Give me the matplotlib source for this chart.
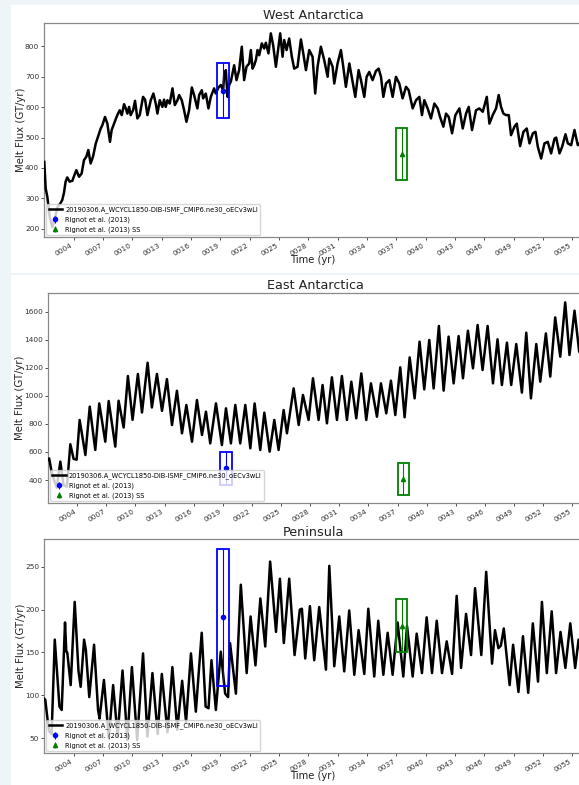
import matplotlib
matplotlib.use("Agg")
import matplotlib.pyplot as plt
from matplotlib.patches import Rectangle
import numpy as np

# model run name used in every legend
run_name = "20190306.A_WCYCL1850-DIB-ISMF_CMIP6.ne30_oECv3wLI"
obs_label = "Rignot et al. (2013)"
ss_label = "Rignot et al. (2013) SS"

# West Antarctica melt flux (year, GT/yr)
west_t = [1.0, 1.14, 1.31, 1.55, 1.82, 2.09, 2.33, 2.67, 2.84, 3.01, 3.18, 3.35, 3.59, 3.87,
          4.14, 4.28, 4.55, 4.82, 5.06, 5.30, 5.50, 5.74, 5.98, 6.26, 6.50, 6.77, 6.94, 7.21,
          7.45, 7.72, 7.89, 8.13, 8.30, 8.47, 8.71, 8.92, 9.16, 9.33, 9.50, 9.67, 9.84, 10.08,
          10.28, 10.52, 10.76, 11.10, 11.31, 11.55, 11.89, 12.16, 12.40, 12.57, 12.81, 13.08,
          13.25, 13.42, 13.60, 13.83, 14.11, 14.35, 14.62, 14.79, 15.06, 15.30, 15.54, 15.81,
          16.09, 16.32, 16.66, 16.84, 17.11, 17.25, 17.52, 17.79, 18.03, 18.37, 18.54, 18.82,
          19.05, 19.29, 19.40, 19.57, 19.74, 19.91, 20.08, 20.25, 20.42, 20.66, 20.93, 21.20,
          21.44, 21.68, 21.96, 22.13, 22.30, 22.47, 22.64, 22.81, 22.98, 23.25, 23.49, 23.66,
          23.93, 24.17, 24.41, 24.69, 24.96, 25.13, 25.37, 25.54, 25.78, 26.05, 26.32, 26.56,
          26.90, 27.25, 27.49, 27.76, 28.10, 28.44, 28.71, 28.95, 29.29, 29.63, 29.98, 30.15,
          30.49, 30.66, 31.00, 31.34, 31.58, 31.85, 32.20, 32.53, 32.81, 33.15, 33.39, 33.73,
          33.97, 34.24, 34.58, 34.92, 35.20, 35.44, 35.68, 35.95, 36.29, 36.63, 36.97, 37.31,
          37.65, 38.00, 38.27, 38.68, 39.02, 39.36, 39.63, 39.87, 40.21, 40.55, 40.90, 41.24,
          41.48, 41.82, 42.09, 42.37, 42.71, 43.05, 43.46, 43.80, 44.14, 44.41, 44.75, 45.16,
          45.50, 45.85, 46.26, 46.53, 46.87, 47.21, 47.48, 47.72, 47.96, 48.23, 48.51, 48.74,
          49.09, 49.33, 49.67, 50.01, 50.35, 50.63, 50.97, 51.24, 51.48, 51.82, 52.16, 52.50,
          52.84, 53.19, 53.36, 53.70, 53.97, 54.31, 54.55, 54.89, 55.23, 55.57, 56.0]
west_v = [420, 333, 305, 240, 205, 235, 270, 285, 295, 318, 355, 369, 355, 358,
          382, 393, 371, 382, 426, 437, 459, 415, 437, 480, 503, 530, 541, 568,
          546, 486, 525, 546, 560, 574, 590, 574, 610, 596, 579, 601, 574, 590,
          621, 563, 574, 634, 625, 574, 623, 645, 612, 579, 623, 601,
          625, 601, 623, 612, 662, 607, 623, 640, 623, 590, 552, 590,
          665, 640, 596, 640, 656, 629, 645, 596, 634, 662, 645, 665,
          673, 656, 705, 722, 634, 673, 684, 711, 738, 689, 722, 799,
          689, 733, 744, 788, 727, 738, 755, 788, 771, 810, 793, 812,
          777, 843, 804, 733, 799, 843, 766, 821, 788, 826, 766, 727,
          733, 823, 777, 722, 788, 766, 645, 733, 799, 755, 700, 760,
          733, 678, 744, 788, 733, 667, 744, 684, 634, 722, 689, 634,
          700, 716, 689, 719, 727, 700, 634, 678, 689, 634, 700, 678,
          629, 667, 656, 596, 623, 634, 574, 623, 596, 563, 612, 596,
          568, 536, 579, 568, 514, 574, 596, 530, 579, 601, 525, 590,
          596, 585, 634, 546, 574, 596, 640, 601, 579, 574, 574, 508,
          536, 546, 472, 519, 530, 481, 514, 519, 470, 431, 481, 486,
          448, 497, 500, 448, 470, 511, 481, 475, 525, 475, 490]

# East Antarctica
east_t = [1.0, 1.12, 1.4, 1.9, 2.27, 2.6, 2.95, 3.3, 3.64, 3.95, 4.26, 4.85, 5.3, 5.87, 6.28,
          6.9, 7.25, 7.93, 8.27, 8.79, 9.23, 9.71, 10.26, 10.68, 11.26, 11.7, 12.22, 12.74,
          13.25, 13.77, 14.28, 14.8, 15.25, 15.83, 16.34, 16.86, 17.27, 17.71, 18.3, 18.91,
          19.33, 19.84, 20.29, 20.8, 21.32, 21.84, 22.28, 22.86, 23.28, 23.83, 24.31, 24.75,
          25.27, 25.61, 26.3, 26.82, 27.26, 27.84, 28.29, 28.87, 29.28, 29.73, 30.24, 30.76,
          31.27, 31.79, 32.24, 32.75, 33.27, 33.78, 34.26, 34.88, 35.29, 35.84, 36.32, 36.77,
          37.28, 37.73, 38.25, 38.76, 39.27, 39.75, 40.27, 40.72, 41.26, 41.75, 42.26, 42.78,
          43.29, 43.74, 44.25, 44.77, 45.25, 45.76, 46.28, 46.83, 47.3, 47.75, 48.27, 48.71,
          49.23, 49.81, 50.26, 50.74, 51.29, 51.7, 52.28, 52.73, 53.24, 53.76, 54.27, 54.71,
          55.23, 55.71, 56.0]
east_v = [545, 554, 447, 345, 531, 364, 352, 655, 550, 545, 828, 578, 923, 614, 946,
          673, 963, 638, 965, 774, 1141, 829, 1156, 881, 1236, 917, 1156, 893,
          1119, 792, 1036, 733, 935, 673, 970, 721, 887, 661, 946, 649,
          911, 661, 935, 661, 935, 626, 946, 614, 880, 602, 828, 614,
          899, 733, 1053, 792, 1006, 828, 1125, 828, 1077, 804, 1132, 828,
          1141, 828, 1101, 840, 1160, 828, 1089, 851, 1089, 875, 1108, 863,
          1203, 847, 1274, 982, 1386, 1046, 1398, 1053, 1498, 1037, 1422, 1089,
          1426, 1125, 1464, 1196, 1505, 1184, 1498, 1089, 1403, 1077, 1379, 1077,
          1369, 1023, 1450, 982, 1369, 1101, 1445, 1137, 1559, 1279, 1666, 1291,
          1607, 1315, 1290]

# Peninsula
pen_t = [1.0, 1.1, 1.3, 1.5, 1.75, 2.07, 2.55, 2.78, 3.12, 3.25, 3.35, 3.7, 4.11, 4.5, 4.72,
         5.07, 5.25, 5.6, 6.09, 6.5, 6.65, 7.1, 7.6, 8.04, 8.5, 9.0, 9.5, 9.96, 10.5, 11.1,
         11.55, 12.06, 12.6, 13.02, 13.6, 14.1, 14.6, 15.1, 15.5, 16.0, 16.5, 17.1, 17.5,
         17.8, 18.1, 18.55, 19.05, 19.5, 19.8, 20.0, 20.6, 21.1, 21.7, 22.1, 22.6, 23.1,
         23.6, 24.1, 24.7, 25.1, 25.5, 26.05, 26.6, 27.14, 27.35, 27.69, 28.17, 28.61,
         29.12, 29.81, 30.15, 30.66, 31.17, 31.68, 32.19, 32.71, 33.15, 33.73, 34.14,
         34.75, 35.16, 35.68, 36.12, 36.63, 37.14, 37.72, 38.1, 38.68, 39.09, 39.63,
         40.11, 40.66, 41.14, 41.68, 42.16, 42.71, 43.18, 43.63, 44.14, 44.65, 45.06,
         45.7, 46.2, 46.8, 47.1, 47.45, 47.7, 48.0, 48.3, 48.6, 48.95, 49.5, 49.96, 50.5,
         50.97, 51.5, 51.9, 52.4, 52.9, 53.35, 53.8, 54.3, 54.8, 55.3, 55.65, 56.0]
pen_v = [96, 95, 75, 58, 55, 165, 87, 83, 185, 151, 150, 112, 209, 128, 110,
         165, 153, 98, 159, 83, 73, 118, 50, 112, 52, 129, 48, 133, 48, 149,
         52, 126, 55, 125, 57, 133, 60, 117, 69, 149, 81, 173, 87,
         85, 141, 83, 151, 102, 98, 161, 102, 229, 126, 192, 135, 213,
         157, 256, 174, 236, 161, 236, 147, 200, 201, 143, 204, 141,
         203, 130, 251, 134, 192, 128, 199, 124, 176, 125, 201,
         122, 187, 124, 173, 124, 185, 122, 181, 122, 172, 126,
         191, 126, 187, 126, 163, 125, 216, 132, 195, 147, 225,
         147, 244, 137, 176, 155, 158, 178, 145, 112, 159, 104, 169, 103,
         184, 116, 209, 126, 198, 126, 174, 132, 184, 132, 165, 140]

# observations: time, value, error   (West, East, Peninsula)
obs_t = [19.25, 19.3, 19.25]
obs_v = [654, 483, 191]
obs_e = [90, 119, 80]
ss_t = [37.55, 37.6, 37.55]
ss_v = [446, 408, 181]
ss_e = [84, 115, 31]

titles = ["West Antarctica", "East Antarctica", "Peninsula"]
ylims = [(172, 878), (234, 1735), (32.5, 282.3)]
yticks = [np.arange(200, 801, 100), np.arange(400, 1601, 200), np.arange(50, 251, 50)]
xticks = np.arange(4, 56, 3)

W, H = 579, 785
fig = plt.figure(figsize=(W / 100, H / 100), dpi=100, facecolor="#edf5f8")

# white "slide" panels behind the three plots
fig.add_artist(Rectangle((11 / W, 1 - 273 / H), 1, (273 - 5) / H, transform=fig.transFigure,
                         facecolor="white", edgecolor="none", zorder=-10))
fig.add_artist(Rectangle((11 / W, 0), 1, 1 - 275 / H, transform=fig.transFigure,
                         facecolor="white", edgecolor="none", zorder=-10))

# axes boxes in pixels: left, top, right, bottom
boxes = [(44.3, 22.7, 582, 237.3), (48, 292.7, 582, 503.3), (44.3, 539, 582, 753.3)]
series = [(west_t, west_v), (east_t, east_v), (pen_t, pen_v)]

for i in range(3):
    l, t, r, b = boxes[i]
    ax = fig.add_axes([l / W, 1 - b / H, (r - l) / W, (b - t) / H])
    ts, vs = series[i]
    ax.plot(ts, vs, color="k", lw=1.8, label=run_name, zorder=3)

    hw = 0.6
    ax.errorbar([obs_t[i]], [obs_v[i]], yerr=[obs_e[i]], fmt="o", color="b", ms=3,
                elinewidth=0.8, label=obs_label, zorder=4)
    ax.add_patch(Rectangle((obs_t[i] - hw, obs_v[i] - obs_e[i]), 2 * hw, 2 * obs_e[i],
                           fill=False, edgecolor="b", lw=1.3, zorder=4))
    ax.errorbar([ss_t[i]], [ss_v[i]], yerr=[ss_e[i]], fmt="^", color="g", ms=3,
                elinewidth=0.8, label=ss_label, zorder=4)
    ax.add_patch(Rectangle((ss_t[i] - hw, ss_v[i] - ss_e[i]), 2 * hw, 2 * ss_e[i],
                           fill=False, edgecolor="g", lw=1.3, zorder=4))

    ax.set_xlim(1.0, 56.0)
    ax.set_ylim(*ylims[i])
    ax.set_yticks(yticks[i])
    ax.set_xticks(xticks)
    ax.set_xticklabels(["%04d" % x for x in xticks], rotation=30, ha="right")
    ax.tick_params(labelsize=5.3, length=2.5, width=0.6, pad=1.2, colors="#333333")
    for s in ax.spines.values():
        s.set_color("#888888")
        s.set_linewidth(0.9)

    ax.set_title(titles[i], fontsize=9.2, pad=2.5, color="#222222")
    ax.set_ylabel("Melt Flux (GT/yr)", fontsize=7.3, labelpad=-0.5, color="#222222")
    if i != 1:
        ax.set_xlabel("Time (yr)", fontsize=7.2, labelpad=-1.5, color="#222222")

    ax.legend(loc="lower left", fontsize=4.8, framealpha=0.8, borderaxespad=0.3,
              labelspacing=0.5, handletextpad=0.5, borderpad=0.35)

fig.savefig("out.png", dpi=100, facecolor=fig.get_facecolor())
